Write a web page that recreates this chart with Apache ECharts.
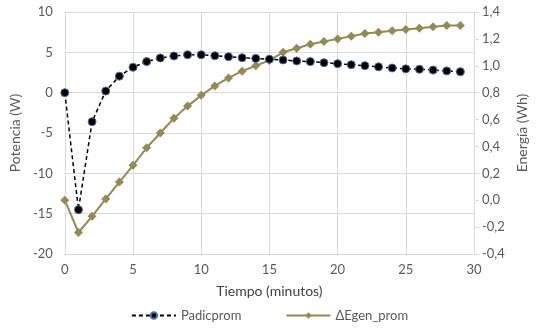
<!DOCTYPE html>
<html><head><meta charset="utf-8">
<script src="https://cdn.jsdelivr.net/npm/echarts@6/dist/echarts.min.js"></script>
<style>html,body{margin:0;padding:0;background:#fff}#c{width:539px;height:329px}</style>
</head><body><div id="c"></div>
<script>
const minutes = [0,1,2,3,4,5,6,7,8,9,10,11,12,13,14,15,16,17,18,19,20,21,22,23,24,25,26,27,28,29];
const padicprom = [0,-14.5,-3.6,0.2,2.05,3.15,3.85,4.3,4.55,4.7,4.7,4.58,4.46,4.33,4.25,4.15,4.05,3.93,3.85,3.72,3.6,3.47,3.35,3.2,3.06,2.95,2.9,2.8,2.7,2.6];
const egenProm = [0.0,-0.24,-0.12,0.01,0.135,0.26,0.39,0.5,0.61,0.7,0.78,0.85,0.91,0.96,1.0,1.04,1.1,1.13,1.16,1.18,1.2,1.22,1.24,1.25,1.26,1.27,1.28,1.29,1.3,1.3];
const seriesNames = ['Padicprom','ΔEgen_prom'];
const xName = 'Tiempo (minutos)';
const yLeftName = 'Potencia (W)';
const yRightName = 'Energía (Wh)';

const font = 'Lato, "Open Sans", sans-serif';
const txt = '#595959';
const chart = echarts.init(document.getElementById('c'));
chart.setOption({
  animation:false,
  textStyle:{fontFamily:font},
  grid:{left:64,right:65,top:12,bottom:75},
  legend:{bottom:2,left:'center',itemWidth:44,itemHeight:8,itemGap:44,
    textStyle:{color:txt,fontSize:13,fontFamily:font},
    data:seriesNames},
  xAxis:{type:'value',min:0,max:30,interval:5,
    name:xName,nameLocation:'middle',nameGap:30,
    nameTextStyle:{color:'#404040',fontSize:14,fontWeight:'normal',fontFamily:font},
    axisLine:{show:true,lineStyle:{color:'#d9d9d9'}},axisTick:{show:false},
    axisLabel:{color:txt,fontSize:13,margin:9},
    splitLine:{show:true,lineStyle:{color:'#d9d9d9'}}},
  yAxis:[{type:'value',min:-20,max:10,interval:5,
    name:yLeftName,nameLocation:'middle',nameGap:39,nameRotate:90,
    nameTextStyle:{color:txt,fontSize:14,fontWeight:'normal',fontFamily:font},
    axisLine:{show:true,lineStyle:{color:'#d9d9d9'}},axisTick:{show:false},
    axisLabel:{color:txt,fontSize:13,margin:12},
    splitLine:{show:true,lineStyle:{color:'#d9d9d9'}}},
   {type:'value',min:-0.4,max:1.4,interval:0.2,position:'right',
    name:yRightName,nameLocation:'middle',nameGap:38,nameRotate:90,
    nameTextStyle:{color:txt,fontSize:14,fontWeight:'normal',fontFamily:font},
    axisLine:{show:true,lineStyle:{color:'#d9d9d9'}},
    axisTick:{show:true,length:5,lineStyle:{color:'#d9d9d9'}},
    axisLabel:{color:txt,fontSize:13,margin:8,formatter:v=>v.toFixed(1).replace('.',',')},
    splitLine:{show:false}}],
  series:[
    {name:seriesNames[0],type:'line',yAxisIndex:0,
      data:minutes.map((m,i)=>[m,padicprom[i]]),
      symbol:'circle',symbolSize:8,
      lineStyle:{color:'#000',width:1.5,type:[4,3]},
      itemStyle:{color:'#000',borderColor:'#4a6fa5',borderWidth:1},z:3},
    {name:seriesNames[1],type:'line',yAxisIndex:1,
      data:minutes.map((m,i)=>[m,egenProm[i]]),
      symbol:'diamond',symbolSize:9,
      lineStyle:{color:'#948a54',width:2},
      itemStyle:{color:'#948a54'},z:2}
  ]
});
</script></body></html>
